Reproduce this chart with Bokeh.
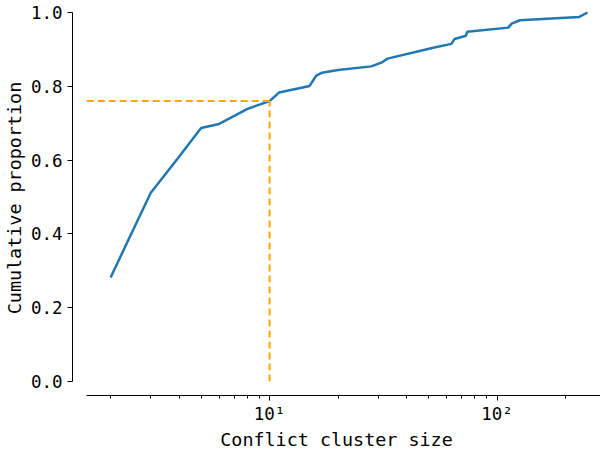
from bokeh.plotting import figure
from bokeh.models import FixedTicker, Range1d, PrintfTickFormatter
from bokeh.embed import file_html
from bokeh.resources import INLINE

# ---- data ----
cluster_sizes = [2, 3, 4, 5, 6, 8, 10, 11, 15, 16, 17, 20, 28, 31, 33, 53, 63, 65,
                 73, 74, 112, 116, 126, 230, 250]
cumulative = [0.282, 0.511, 0.609, 0.687, 0.698, 0.739, 0.760, 0.783, 0.801, 0.828,
              0.837, 0.844, 0.854, 0.864, 0.875, 0.905, 0.915, 0.928, 0.937, 0.948,
              0.959, 0.970, 0.979, 0.988, 1.0]
threshold_size = 10
threshold_prop = 0.76

y_ticks = [0.0, 0.2, 0.4, 0.6, 0.8, 1.0]
x_major = [10, 100]
x_minor = [2, 3, 4, 5, 6, 7, 8, 9, 20, 30, 40, 50, 60, 70, 80, 90, 200, 300]
x_labels = {10: "10\u00b9", 100: "10\u00b2"}

x_lim = (1.571, 318.6)     # axis extent (matplotlib-style limits)
FONT = "DejaVu Sans Mono"

p = figure(width=600, height=454, x_axis_type="log",
           x_range=Range1d(1.360, 285.1), y_range=Range1d(-0.03794, 1.03252),
           output_backend="svg", toolbar_location=None,
           min_border_left=66, min_border_right=0, min_border_top=0, min_border_bottom=59)
p.outline_line_color = None
p.grid.visible = False
p.background_fill_color = "white"
p.border_fill_color = "white"

p.line(cluster_sizes, cumulative, line_color="#1f77b4", line_width=2.5)

# threshold guide lines
p.line([x_lim[0], threshold_size], [threshold_prop, threshold_prop],
       line_color="#ffa500", line_width=2, line_dash="7 4")
p.line([threshold_size, threshold_size], [0, threshold_prop],
       line_color="#ffa500", line_width=2, line_dash="7 4")

# axes
xa = p.xaxis[0]
xa.ticker = FixedTicker(ticks=x_major, minor_ticks=x_minor)
xa.major_label_overrides = x_labels
xa.bounds = x_lim
xa.axis_label = "Conflict cluster size"

ya = p.yaxis[0]
ya.ticker = FixedTicker(ticks=y_ticks, minor_ticks=[])
ya.formatter = PrintfTickFormatter(format="%.1f")
ya.bounds = (0, 1)
ya.axis_label = "Cumulative proportion"

for ax in (xa, ya):
    ax.axis_line_color = "black"
    ax.axis_line_width = 1
    ax.major_tick_line_color = "black"
    ax.minor_tick_line_color = "black"
    ax.major_tick_out = 5
    ax.major_tick_in = 0
    ax.minor_tick_out = 3
    ax.minor_tick_in = 0
    ax.major_label_text_font = FONT
    ax.major_label_text_font_size = "17.5px"
    ax.major_label_text_color = "black"
    ax.axis_label_text_font = FONT
    ax.axis_label_text_font_size = "18.4px"
    ax.axis_label_text_font_style = "normal"
    ax.axis_label_text_color = "black"

xa.major_label_standoff = 3
xa.axis_label_standoff = 2
ya.major_label_standoff = 5
ya.axis_label_standoff = 3

open("out.html", "w").write(file_html(p, INLINE))
